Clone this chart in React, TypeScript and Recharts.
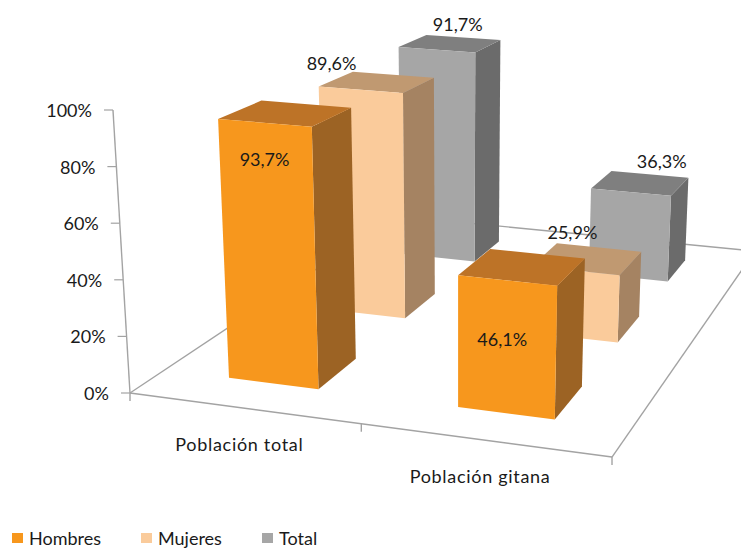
import React from "react";
import { BarChart, Bar, XAxis, YAxis, Legend, LabelList, Customized } from "recharts";

const categories = ["Población total", "Población gitana"];
const hombres = [93.7, 46.1];
const mujeres = [89.6, 25.9];
const total = [91.7, 36.3];
const yTicks = [0, 20, 40, 60, 80, 100];

const rows = categories.map((name, i) => ({ name, Hombres: hombres[i], Mujeres: mujeres[i], Total: total[i] }));

const W = 741;
const H = 548;
const PLOT_LEFT = 130;
const PLOT_TOP = 110;
const PLOT_W = 482;
const PLOT_H = 283;
const BAR_W = 96.4;
const U_BIAS = 0.003;
const FONT = "Lato, Carlito, sans-serif";
const FONT_SIZE = 18;
const INK = "#1a1a1a";

// Camera of the 3D scene: u along categories, v up the value axis, w into depth (all 0..1)
const project = (u: number, v0: number, w: number): [number, number] => {
  const v = v0 / (0.9505 + 0.0494 * v0); // keeps the value axis evenly spaced on screen
  const d = -0.0773 * u + 0.3734 * w + 1 - 0.0494 * v;
  return [(434.7 * u + 413.9 * w + 130 - 22.6 * v) / d, (28.7 * u - 96.3 * w + 393 - 288.4 * v) / d];
};
const pts = (list: [number, number][]) => list.map((p) => `${p[0].toFixed(1)},${p[1].toFixed(1)}`).join(" ");

type Look = { key: string; depth: number; front: string; top: string; side: string; offsets: [number, number][] };
const HALF_DEPTH = 0.067;
const looks: Look[] = [
  { key: "Total", depth: 5 / 6, front: "#A6A6A6", top: "#7F7F7F", side: "#6B6B6B", offsets: [[21, -26], [31, -31]] },
  { key: "Mujeres", depth: 1 / 2, front: "#FACB9B", top: "#C09971", side: "#A58362", offsets: [[-29, -27], [-3, -39]] },
  { key: "Hombres", depth: 1 / 6, front: "#F7971D", top: "#BD7327", side: "#9C6324", offsets: [[0, 36], [-5, 58]] },
];
const legendOrder = ["Hombres", "Mujeres", "Total"];
const legendX = [12, 141, 262];

const toU = (x: number) => (x - PLOT_LEFT) / PLOT_W;
const toV = (y: number) => (PLOT_TOP + PLOT_H - y) / PLOT_H;

const prism = (look: Look) => (props: any) => {
  const { x, y, width } = props;
  const u0 = toU(x) - U_BIAS;
  const u1 = toU(x + width) - U_BIAS;
  const v = toV(y);
  const w0 = look.depth - HALF_DEPTH;
  const w1 = look.depth + HALF_DEPTH;
  return (
    <g>
      <polygon points={pts([project(u1, 0, w0), project(u1, 0, w1), project(u1, v, w1), project(u1, v, w0)])} fill={look.side} />
      <polygon points={pts([project(u0, v, w0), project(u1, v, w0), project(u1, v, w1), project(u0, v, w1)])} fill={look.top} />
      <polygon points={pts([project(u0, 0, w0), project(u1, 0, w0), project(u1, v, w0), project(u0, v, w0)])} fill={look.front} />
    </g>
  );
};

const valueLabel = (look: Look) => (props: any) => {
  const { x, y, width, value, index } = props;
  const v = toV(y);
  const p = project((toU(x) + toU(x + width)) / 2 - U_BIAS, v, look.depth - HALF_DEPTH);
  const off = look.offsets[index];
  return (
    <text x={p[0] + off[0]} y={p[1] + off[1]} textAnchor="middle" dominantBaseline="central" fontFamily={FONT} fontSize={FONT_SIZE} fill={INK}>
      {String(value).replace(".", ",")}%
    </text>
  );
};

const Frame = () => {
  const line = (a: [number, number], b: [number, number], k: string) => (
    <line key={k} x1={a[0]} y1={a[1]} x2={b[0]} y2={b[1]} stroke="#a3a3a3" strokeWidth={1.4} />
  );
  return (
    <g>
      {line(project(0, 0, 0), project(0, 1, 0), "axis")}
      {line(project(0, 0, 0), project(1, 0, 0), "front")}
      {line(project(0, 0, 0), project(0, 0, 1), "left")}
      {line(project(0, 0, 1), project(1, 0, 1), "back")}
      {line(project(1, 0, 0), project(1, 0, 1), "right")}
      {[0, 0.5, 1].map((u) => {
        const p = project(u, 0, 0);
        return line(p, [p[0], p[1] + 8], `xt${u}`);
      })}
    </g>
  );
};

const YTick = (props: any) => {
  const value = props.payload.value;
  const p = project(0, value / 100, 0);
  return (
    <g>
      <line x1={p[0] - 9} y1={p[1]} x2={p[0]} y2={p[1]} stroke="#a3a3a3" strokeWidth={1.2} />
      <text x={p[0] - 21} y={p[1]} textAnchor="end" dominantBaseline="central" fontFamily={FONT} fontSize={FONT_SIZE} fill={INK}>
        {value}%
      </text>
    </g>
  );
};

const XTick = (props: any) => {
  const p = project(toU(props.x), 0, 0);
  return (
    <text x={p[0] - 4} y={p[1] + 36} textAnchor="middle" dominantBaseline="central" fontFamily={FONT} fontSize={FONT_SIZE} letterSpacing={0.7} fill={INK}>
      {props.payload.value}
    </text>
  );
};

const LegendBody = () => (
  <div style={{ position: "relative", width: W, height: 20, fontFamily: FONT, fontSize: FONT_SIZE, color: INK }}>
    {legendOrder.map((name, i) => {
      const look = looks.find((l) => l.key === name)!;
      return (
        <div key={name} style={{ position: "absolute", left: legendX[i], top: 0, height: 20, display: "flex", alignItems: "center", whiteSpace: "nowrap" }}>
          <span style={{ width: 11, height: 10, background: look.front, marginRight: 6, display: "inline-block" }} />
          {name}
        </div>
      );
    })}
  </div>
);

export default function App() {
  return (
    <div style={{ position: "absolute", left: 0, top: 0, width: W, height: H, background: "#fff" }}>
      <BarChart
        width={W}
        height={H}
        data={rows}
        barSize={BAR_W}
        barGap={-BAR_W}
        margin={{ top: PLOT_TOP, left: PLOT_LEFT - 70, right: W - PLOT_LEFT - PLOT_W, bottom: H - PLOT_TOP - PLOT_H - 50 }}
      >
        <Customized component={Frame} />
        <XAxis dataKey="name" height={30} axisLine={false} tickLine={false} interval={0} tick={XTick} />
        <YAxis width={70} domain={[0, 100]} ticks={yTicks} axisLine={false} tickLine={false} tick={YTick} interval={0} />
        <Legend verticalAlign="bottom" height={20} content={LegendBody} wrapperStyle={{ left: 0, bottom: 0, width: W, height: 20 }} />
        {looks.map((look) => (
          <Bar key={look.key} dataKey={look.key} isAnimationActive={false} shape={prism(look)}>
            <LabelList dataKey={look.key} content={valueLabel(look)} />
          </Bar>
        ))}
      </BarChart>
    </div>
  );
}
